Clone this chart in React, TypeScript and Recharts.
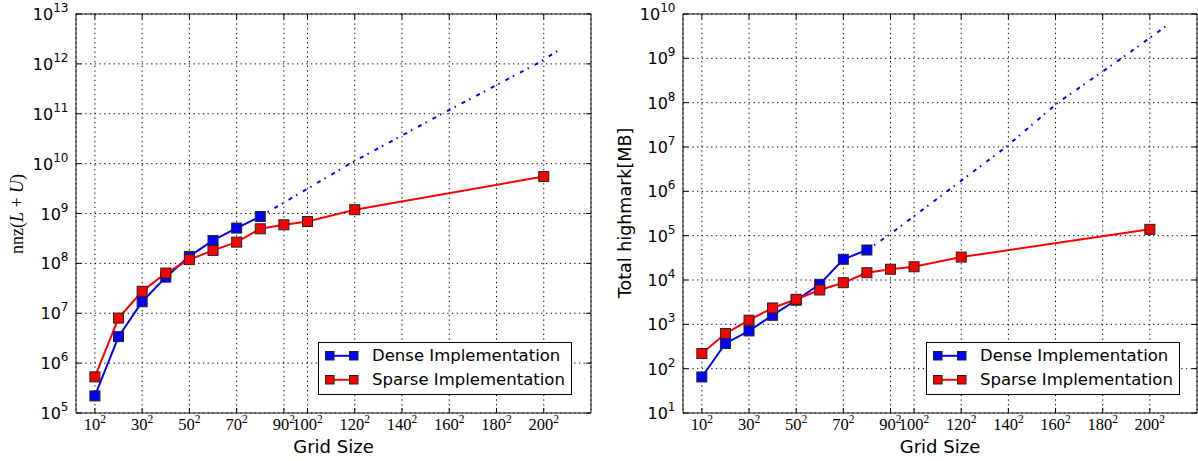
import {
  CartesianGrid,
  Legend,
  Line,
  LineChart,
  ReferenceArea,
  XAxis,
  YAxis,
} from "recharts"

// grid side lengths (x axis shows N^2)
const denseN = [10, 20, 30, 40, 50, 60, 70, 80]
const sparseN = [10, 20, 30, 40, 50, 60, 70, 80, 90, 100, 120, 200]
const xTicks = [10, 30, 50, 70, 90, 100, 120, 140, 160, 180, 200]

// left panel: nnz(L+U)
const denseNnz = [2.2e5, 3.4e6, 1.7e7, 5.3e7, 1.38e8, 2.88e8, 5.1e8, 8.7e8]
const sparseNnz = [5.3e5, 8.0e6, 2.75e7, 6.4e7, 1.19e8, 1.82e8, 2.67e8, 4.94e8, 5.94e8, 6.92e8, 1.19e9, 5.5e9]
const denseNnzFitN = [80, 118, 157, 197, 208]
const denseNnzFit = [8.7e8, 1e10, 1e11, 1e12, 2.1e12]
const nnzExponents = [5, 6, 7, 8, 9, 10, 11, 12, 13]

// right panel: total highmark [MB]
const denseMem = [65, 370, 710, 1600, 3500, 8000, 29300, 47500]
const sparseMem = [220, 620, 1240, 2340, 3670, 5960, 8690, 14600, 17500, 19900, 32900, 1.39e5]
const denseMemFitN = [80, 89, 114, 139, 161, 188, 208]
const denseMemFit = [4.75e4, 1e5, 1e6, 1e7, 1e8, 1e9, 5.9e9]
const memExponents = [1, 2, 3, 4, 5, 6, 7, 8, 9, 10]

const legendItems = [
  { name: "Dense Implementation", color: "#0000ff" },
  { name: "Sparse Implementation", color: "#ff0000" },
]

const BLUE = "#0000ff"
const RED = "#ff0000"
const FONT = "DejaVu Sans"

const zip = (xs: number[], ys: number[]) => xs.map((n, i) => ({ n, v: ys[i] }))

const majorTicks = (exps: number[]) => exps.map((e) => Math.pow(10, e))
const minorTicks = (exps: number[]) => {
  const out: number[] = []
  for (let i = 0; i < exps.length - 1; i++) {
    for (let m = 2; m <= 9; m++) out.push(m * Math.pow(10, exps[i]))
  }
  return out
}

const square = (color: string) => (props: any) => (
  <rect
    key={`sq-${props.index}`}
    x={props.cx - 5}
    y={props.cy - 5}
    width={10}
    height={10}
    fill={color}
    stroke="#222"
    strokeWidth={1}
  />
)

const makeXTick = (top: number, bottom: number) => (props: any) => {
  const { x, payload } = props
  return (
    <g>
      <line x1={x} x2={x} y1={bottom} y2={bottom - 5} stroke="#000" />
      <line x1={x} x2={x} y1={top} y2={top + 5} stroke="#000" />
      <text x={x} y={430} textAnchor="middle" fontFamily="Liberation Serif" fontSize={16.5} fill="#000">
        <tspan>{payload.value}</tspan>
        <tspan dy={-7.5} fontSize={11.5}>2</tspan>
      </text>
    </g>
  )
}

const makeYTick = (left: number, right: number) => (props: any) => {
  const { y, payload } = props
  const exp = Math.round(Math.log10(payload.value))
  return (
    <g>
      <line x1={left} x2={left + 5} y1={y} y2={y} stroke="#000" />
      <line x1={right} x2={right - 5} y1={y} y2={y} stroke="#000" />
      <text x={left - 7.5} y={y + 6} textAnchor="end" fontFamily={FONT} fontSize={16} fill="#000">
        <tspan>10</tspan>
        <tspan dy={-8} fontSize={12}>{exp}</tspan>
      </text>
    </g>
  )
}

const makeMinorTick = (left: number, right: number) => (props: any) => {
  const { y } = props
  return (
    <g>
      <line x1={left} x2={left + 2.5} y1={y} y2={y} stroke="#000" />
      <line x1={right} x2={right - 2.5} y1={y} y2={y} stroke="#000" />
    </g>
  )
}

const LegendBox = () => (
  <div
    style={{
      position: "relative",
      width: 252,
      height: 51,
      border: "1px solid #000",
      background: "#fff",
      fontFamily: FONT,
      fontSize: 16.5,
      color: "#000",
    }}
  >
    {legendItems.map((it, i) => (
      <div key={it.name} style={{ position: "absolute", left: 0, top: 0.9 + i * 23.6, width: 252, height: 23.6 }}>
        <svg width={40} height={24} style={{ position: "absolute", left: 5, top: 0 }}>
          <line x1={6} x2={30} y1={11.8} y2={11.8} stroke={it.color} strokeWidth={2} />
          <rect x={1.5} y={7.5} width={8.5} height={8.5} fill={it.color} stroke="#222" />
          <rect x={25.5} y={7.5} width={8.5} height={8.5} fill={it.color} stroke="#222" />
        </svg>
        <span style={{ position: "absolute", left: 53, top: 0, lineHeight: "23.6px", whiteSpace: "nowrap" }}>
          {it.name}
        </span>
      </div>
    ))}
  </div>
)

type PanelProps = {
  width: number
  yAxisWidth: number
  marginRight: number
  exps: number[]
  dense: { n: number; v: number }[]
  sparse: { n: number; v: number }[]
  fit: { n: number; v: number }[]
  legendLeft: number
  yLabel: (props: any) => any
}

const TOP = 14
const HEIGHT = 461
const X_AXIS_H = 48

const Panel = ({ width, yAxisWidth, marginRight, exps, dense, sparse, fit, legendLeft, yLabel }: PanelProps) => {
  const left = yAxisWidth
  const right = width - marginRight
  const bottom = HEIGHT - X_AXIS_H
  const yDomain = [Math.pow(10, exps[0]), Math.pow(10, exps[exps.length - 1])]
  return (
    <LineChart width={width} height={HEIGHT} margin={{ top: TOP, right: marginRight, bottom: 0, left: 0 }}>
      <CartesianGrid stroke="#000" strokeDasharray="1.3 3.4" />
      <XAxis
        dataKey="n"
        type="number"
        domain={[2, 220]}
        ticks={xTicks}
        interval={0}
        allowDataOverflow
        height={X_AXIS_H}
        axisLine={false}
        tickLine={false}
        tick={makeXTick(TOP, bottom)}
        label={{
          content: () => (
            <text x={(left + right) / 2} y={453} textAnchor="middle" fontFamily={FONT} fontSize={18} fill="#000">
              Grid Size
            </text>
          ),
        }}
      />
      <YAxis
        type="number"
        scale="log"
        domain={yDomain}
        ticks={majorTicks(exps)}
        interval={0}
        allowDataOverflow
        width={yAxisWidth}
        axisLine={false}
        tickLine={false}
        tick={makeYTick(left, right)}
        label={{ content: yLabel }}
      />
      <YAxis
        yAxisId="minor"
        orientation="right"
        type="number"
        scale="log"
        domain={yDomain}
        ticks={minorTicks(exps)}
        interval={0}
        allowDataOverflow
        width={0}
        axisLine={false}
        tickLine={false}
        tick={makeMinorTick(left, right)}
      />
      <Line
        data={dense}
        dataKey="v"
        type="linear"
        stroke={BLUE}
        strokeWidth={2}
        dot={square(BLUE)}
        isAnimationActive={false}
      />
      <Line
        data={fit}
        dataKey="v"
        type="linear"
        stroke={BLUE}
        strokeWidth={2}
        strokeDasharray="4 4.5 1.5 6.5"
        dot={false}
        legendType="none"
        isAnimationActive={false}
      />
      <Line
        data={sparse}
        dataKey="v"
        type="linear"
        stroke={RED}
        strokeWidth={2}
        dot={square(RED)}
        isAnimationActive={false}
      />
      <ReferenceArea x1={2} x2={220} y1={yDomain[0]} y2={yDomain[1]} fill="none" stroke="#111" strokeWidth={1} />
      <Legend
        layout="vertical"
        align="center"
        verticalAlign="middle"
        content={() => <LegendBox />}
        wrapperStyle={{ left: legendLeft, top: 342, width: 254, height: 53 }}
      />
    </LineChart>
  )
}

const nnzLabel = () => (
  <text
    x={17}
    y={214}
    transform="rotate(-90 17 214)"
    textAnchor="middle"
    dominantBaseline="central"
    fontFamily="Liberation Serif"
    fontSize={18}
    fill="#000"
  >
    <tspan>nnz(</tspan>
    <tspan fontStyle="italic">L</tspan>
    <tspan> + </tspan>
    <tspan fontStyle="italic">U</tspan>
    <tspan>)</tspan>
  </text>
)

const memLabel = () => (
  <text
    x={25}
    y={213}
    transform="rotate(-90 25 213)"
    textAnchor="middle"
    dominantBaseline="central"
    fontFamily={FONT}
    fontSize={17.5}
    fill="#000"
  >
    Total highmark[MB]
  </text>
)

export default function App() {
  return (
    <div style={{ position: "absolute", left: 0, top: 0, width: 1198, height: 461, background: "#fff", fontFamily: FONT }}>
      <div style={{ position: "absolute", left: 0, top: 0 }}>
        <Panel
          width={600}
          yAxisWidth={76}
          marginRight={9}
          exps={nnzExponents}
          dense={zip(denseN, denseNnz)}
          sparse={zip(sparseN, sparseNnz)}
          fit={zip(denseNnzFitN, denseNnzFit)}
          legendLeft={318}
          yLabel={nnzLabel}
        />
      </div>
      <div style={{ position: "absolute", left: 600, top: 0 }}>
        <Panel
          width={598}
          yAxisWidth={83}
          marginRight={1}
          exps={memExponents}
          dense={zip(denseN, denseMem)}
          sparse={zip(sparseN, sparseMem)}
          fit={zip(denseMemFitN, denseMemFit)}
          legendLeft={326}
          yLabel={memLabel}
        />
      </div>
    </div>
  )
}
